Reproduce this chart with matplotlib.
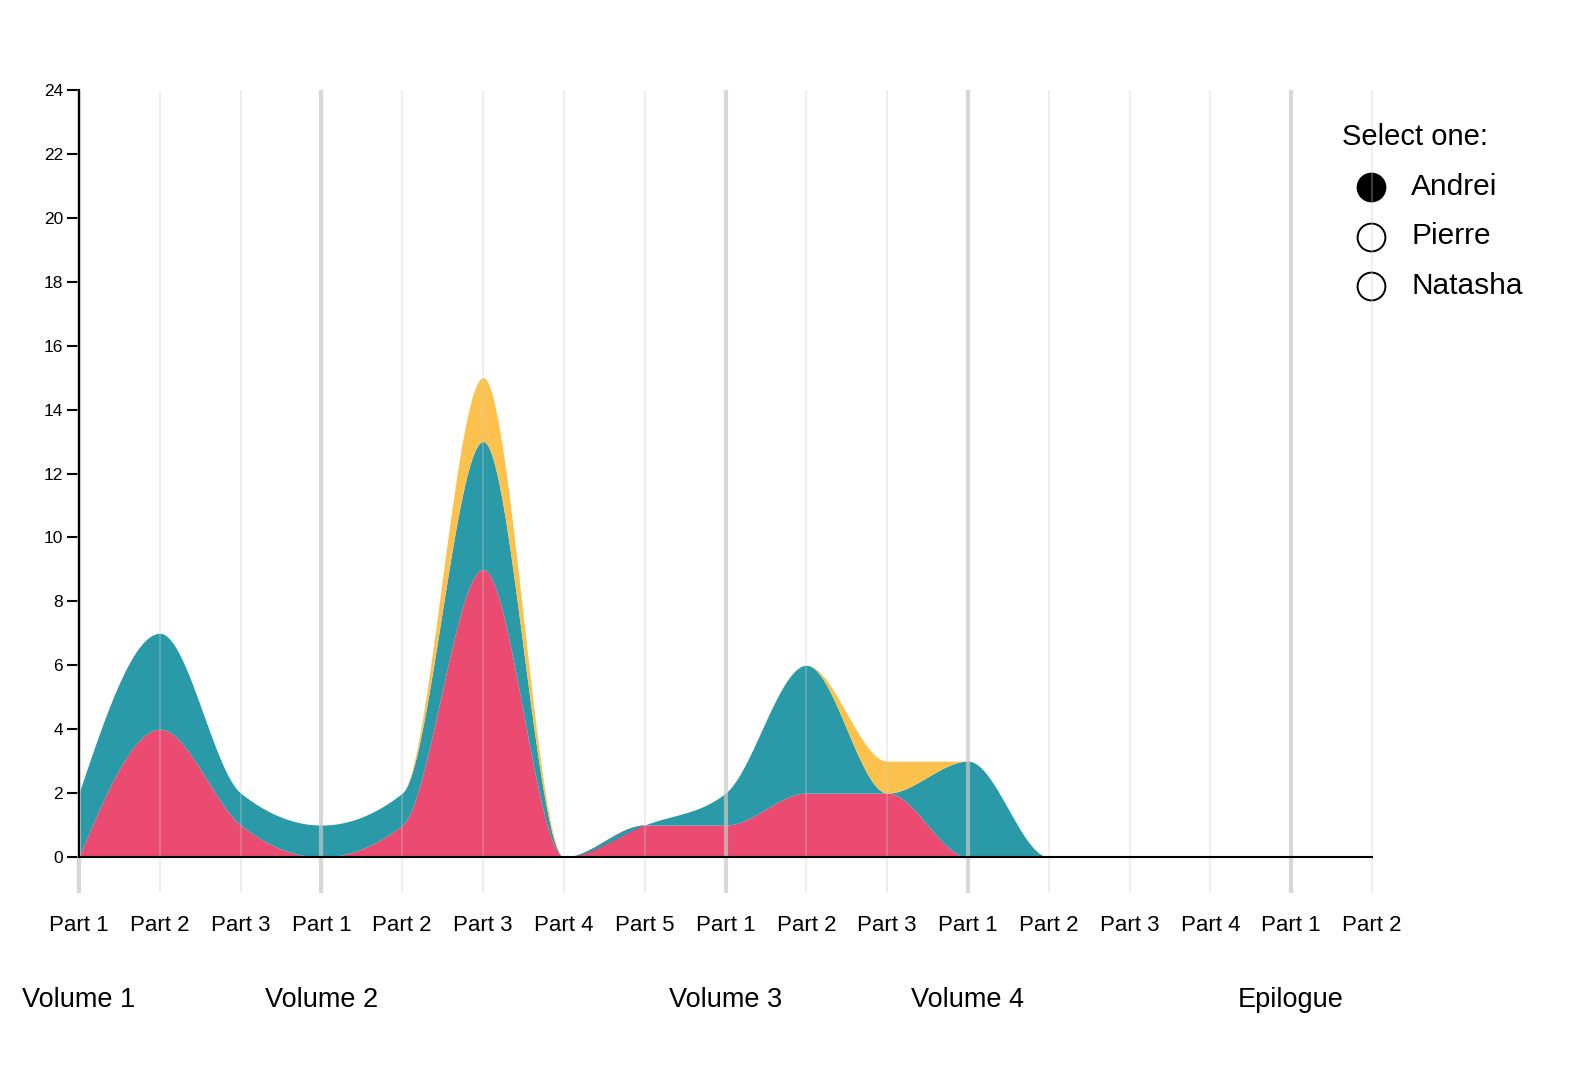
import matplotlib
matplotlib.use("Agg")
import matplotlib.pyplot as plt
import matplotlib.transforms as mtransforms
import numpy as np

plt.rcParams['font.family'] = ['Liberation Sans', 'DejaVu Sans']

# book structure
volume_names = ["Volume 1", "Volume 2", "Volume 3", "Volume 4", "Epilogue"]
parts_per_volume = [3, 5, 3, 4, 2]

# stacked layers, one value per part (bottom to top)
red_counts = [0, 4, 1, 0, 1, 9, 0, 1, 1, 2, 2, 0, 0, 0, 0, 0, 0]
teal_counts = [2, 3, 1, 1, 1, 4, 0, 0, 1, 4, 0, 3, 0, 0, 0, 0, 0]
gold_counts = [0, 0, 0, 0, 0, 2, 0, 0, 0, 0, 1, 0, 0, 0, 0, 0, 0]

layer_colors = ["#eb4b70", "#2a9aa8", "#fdc24e"]

characters = ["Andrei", "Pierre", "Natasha"]
selected = "Andrei"

y_ticks = list(range(0, 25, 2))


def monotone_x(xs, ys, n=60):
    # same shape as d3.curveMonotoneX
    xs = np.asarray(xs, float)
    ys = np.asarray(ys, float)
    h = np.diff(xs)
    s = np.diff(ys) / h
    t = np.zeros(len(xs))
    sg = lambda v: -1.0 if v < 0 else 1.0
    for i in range(1, len(xs) - 1):
        h0, h1, s0, s1 = h[i - 1], h[i], s[i - 1], s[i]
        p = (s0 * h1 + s1 * h0) / (h0 + h1)
        t[i] = (sg(s0) + sg(s1)) * min(abs(s0), abs(s1), 0.5 * abs(p))
    t[0] = (3 * s[0] - t[1]) / 2
    t[-1] = (3 * s[-1] - t[-2]) / 2
    out_x, out_y = [], []
    u = np.linspace(0, 1, n)
    for i in range(len(xs) - 1):
        h00 = 2 * u**3 - 3 * u**2 + 1
        h10 = u**3 - 2 * u**2 + u
        h01 = -2 * u**3 + 3 * u**2
        h11 = u**3 - u**2
        yy = h00 * ys[i] + h10 * h[i] * t[i] + h01 * ys[i + 1] + h11 * h[i] * t[i + 1]
        out_x.append(xs[i] + u * h[i])
        out_y.append(yy)
    return np.concatenate(out_x), np.concatenate(out_y)


part_labels = []
volume_start = []
for name, n in zip(volume_names, parts_per_volume):
    volume_start.append(len(part_labels))
    part_labels += ["Part %d" % (k + 1) for k in range(n)]
x = np.arange(len(part_labels))

fig = plt.figure(figsize=(15.96, 10.82), dpi=100)
ax = fig.add_axes([79 / 1596, 1 - 857 / 1082, (1372 - 79) / 1596, (857 - 90) / 1082])

layers = [red_counts, teal_counts, gold_counts]
base = np.zeros(len(x))
for vals, color in zip(layers, layer_colors):
    top = base + np.array(vals, float)
    cx, lo = monotone_x(x, base)
    _, hi = monotone_x(x, top)
    ax.fill_between(cx, lo, hi, color=color, lw=0, zorder=1)
    base = top

ax.set_xlim(x[0], x[-1])
ax.set_ylim(0, 24)

# vertical guides, heavier at volume starts
below = -36 / (767 / 24)
for i in x:
    if i in volume_start:
        ax.vlines(i, below, 24, color="#c8c8c8", alpha=0.7, lw=3, zorder=3, clip_on=False)
    else:
        ax.vlines(i, below, 24, color="#cccccc", alpha=0.3, lw=1.5, zorder=3, clip_on=False)

for side in ["top", "right"]:
    ax.spines[side].set_visible(False)
for side in ["left", "bottom"]:
    ax.spines[side].set_color("black")
    ax.spines[side].set_linewidth(1.5)
    ax.spines[side].set_zorder(4)

ax.set_yticks(y_ticks)
ax.tick_params(axis="y", length=8.6, width=1.5, pad=3, labelsize=12.5)
ax.set_xticks(x)
ax.set_xticklabels(part_labels)
ax.set_xticks([x[0], x[-1]], minor=True)
ax.tick_params(axis="x", which="major", length=0, pad=42, labelsize=16)
ax.tick_params(axis="x", which="minor", length=8.6, width=1.5)

trans = mtransforms.blended_transform_factory(ax.transData, ax.transAxes)
for name, start in zip(volume_names, volume_start):
    ax.text(start, -143 / 767, name, transform=trans, ha="center", va="center",
            fontsize=19.5)

# radio-button style selector
fig.text(1342 / 1596, 1 - 137 / 1082, "Select one:", ha="left", va="center", fontsize=21)
for k, name in enumerate(characters):
    yy = 1 - (187 + 49.5 * k) / 1082
    face = "black" if name == selected else "white"
    ax.plot([1371 / 1596], [yy], marker="o", ms=20, mfc=face, mec="black", mew=1.4,
            transform=fig.transFigure, clip_on=False, zorder=2)
    fig.text(1411 / 1596, yy, name, ha="left", va="center", fontsize=21.5)

fig.savefig("out.png", dpi=100)
